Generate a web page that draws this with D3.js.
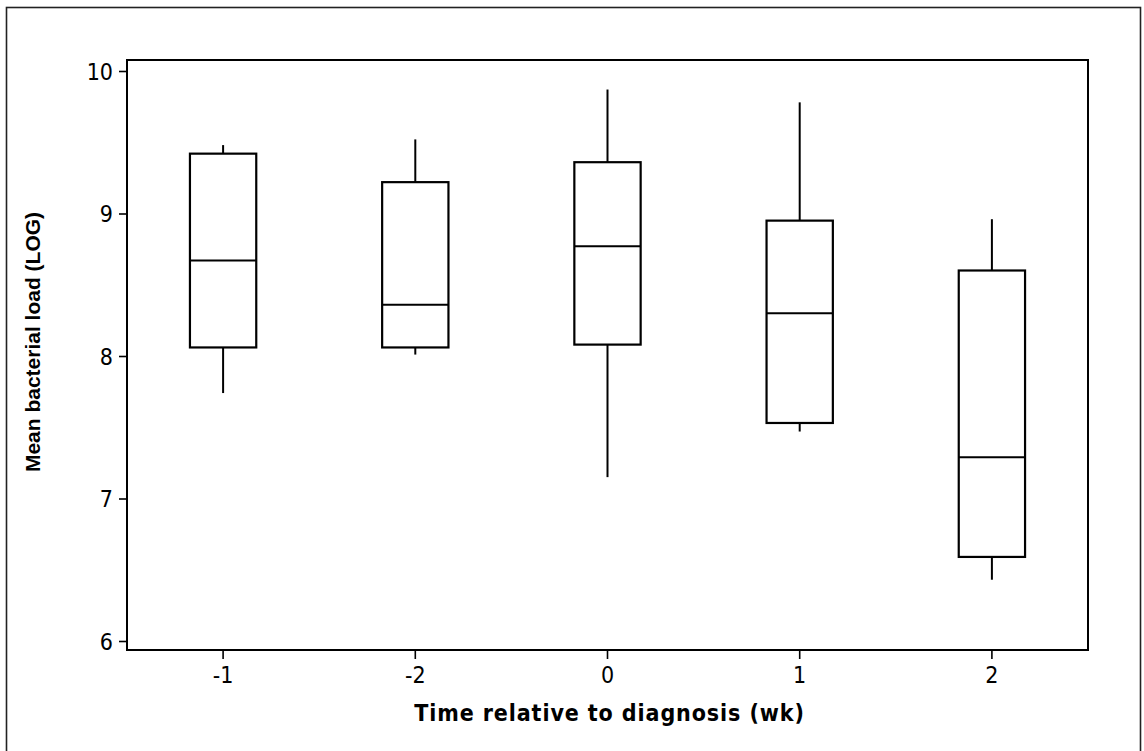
<!DOCTYPE html>
<html>
<head>
<meta charset="utf-8">
<script src="https://cdn.jsdelivr.net/npm/d3@7"></script>
<style>
  body { margin: 0; background: #fff; }
  svg { display: block; }
  .tick text { font-family: "DejaVu Sans Condensed", "DejaVu Sans", sans-serif; font-stretch: condensed; font-size: 23px; fill: #000; }
</style>
</head>
<body>
<div id="chart"></div>
<script>
// weeks relative to diagnosis, in the order shown
const categories = ['-1', '-2', '0', '1', '2']
const whiskerLow = [7.74, 8.01, 7.15, 7.47, 6.43]
const q1 = [8.06, 8.06, 8.08, 7.53, 6.59]
const median = [8.67, 8.36, 8.77, 8.30, 7.29]
const q3 = [9.42, 9.22, 9.36, 8.95, 8.60]
const whiskerHigh = [9.48, 9.52, 9.87, 9.78, 8.96]
const yTicks = [6, 7, 8, 9, 10]

const width = 1144, height = 751
const plotLeft = 127, plotRight = 1088, plotTop = 60, plotBottom = 650

const boxes = categories.map((c, i) => ({
  cat: c, lo: whiskerLow[i], q1: q1[i], med: median[i], q3: q3[i], hi: whiskerHigh[i]
}))

const svg = d3.select('#chart')
  .append('svg')
  .attr('width', width)
  .attr('height', height)

// outer frame
svg.append('rect')
  .attr('x', 6.5).attr('y', 7.5)
  .attr('width', 1134).attr('height', 760)
  .attr('fill', 'none').attr('stroke', '#222').attr('stroke-width', 1.6)

const x = d3.scaleBand()
  .domain(categories)
  .range([plotLeft, plotRight])
  .padding(0)
const y = d3.scaleLinear()
  .domain([6, 10])
  .range([641, 71])

const boxW = x.bandwidth() * 0.345

// plot frame
svg.append('rect')
  .attr('x', plotLeft).attr('y', plotTop)
  .attr('width', plotRight - plotLeft).attr('height', plotBottom - plotTop)
  .attr('fill', 'none').attr('stroke', '#000').attr('stroke-width', 2)

const yAxis = svg.append('g')
  .attr('transform', `translate(${plotLeft},0)`)
  .call(d3.axisLeft(y).tickValues(yTicks).tickSize(8).tickPadding(6).tickFormat(d3.format('d')))
yAxis.select('.domain').remove()
yAxis.selectAll('.tick line').attr('stroke-width', 1.6)
yAxis.selectAll('.tick text').attr('dy', '0.36em')

const xAxis = svg.append('g')
  .attr('transform', `translate(0,${plotBottom})`)
  .call(d3.axisBottom(x).tickSize(9).tickPadding(8))
xAxis.select('.domain').remove()
xAxis.selectAll('.tick line').attr('stroke-width', 1.6)

const g = svg.append('g').selectAll('g')
  .data(boxes)
  .join('g')
  .attr('transform', d => `translate(${x(d.cat) + x.bandwidth() / 2},0)`)

// whiskers
g.append('line')
  .attr('y1', d => y(d.q3)).attr('y2', d => y(d.hi))
  .attr('stroke', '#000').attr('stroke-width', 2)
g.append('line')
  .attr('y1', d => y(d.q1)).attr('y2', d => y(d.lo))
  .attr('stroke', '#000').attr('stroke-width', 2)

g.append('rect')
  .attr('x', -boxW / 2)
  .attr('y', d => y(d.q3))
  .attr('width', boxW)
  .attr('height', d => y(d.q1) - y(d.q3))
  .attr('fill', '#fff').attr('stroke', '#000').attr('stroke-width', 2.2)

g.append('line')
  .attr('x1', -boxW / 2).attr('x2', boxW / 2)
  .attr('y1', d => y(d.med)).attr('y2', d => y(d.med))
  .attr('stroke', '#000').attr('stroke-width', 2)

// axis titles
svg.append('text')
  .attr('x', (plotLeft + plotRight) / 2 + 2)
  .attr('y', 721)
  .attr('text-anchor', 'middle')
  .style('font-family', '"DejaVu Sans Condensed", "DejaVu Sans", sans-serif')
  .style('font-stretch', 'condensed')
  .style('font-weight', 'bold')
  .style('font-size', '23px')
  .style('letter-spacing', '0.9px')
  .text('Time relative to diagnosis (wk)')

svg.append('text')
  .attr('transform', `translate(40,342) rotate(-90)`)
  .attr('text-anchor', 'middle')
  .style('font-family', '"Liberation Sans", Arial, sans-serif')
  .style('font-weight', 'bold')
  .style('font-size', '21px')
  .text('Mean bacterial load (LOG)')
</script>
</body>
</html>
